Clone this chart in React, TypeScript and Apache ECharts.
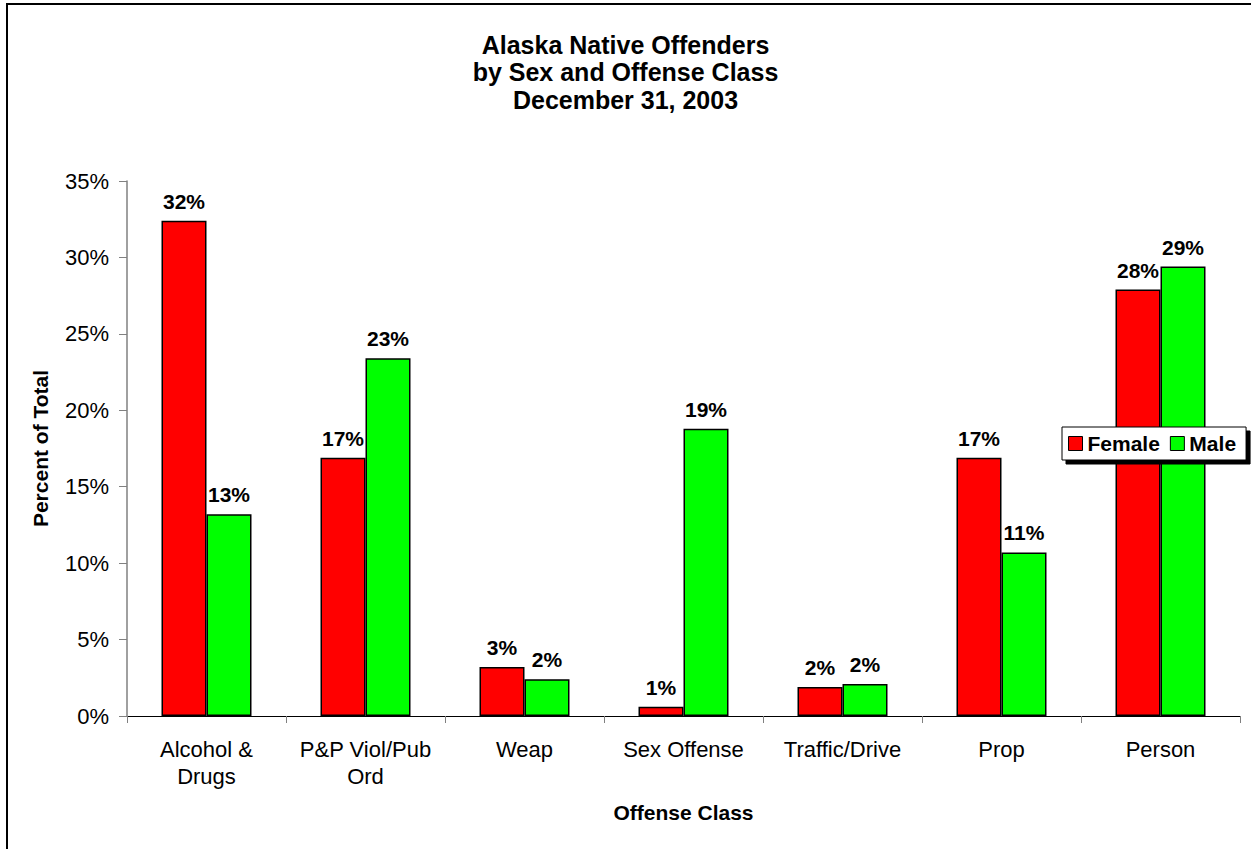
import React, { useEffect, useRef } from "react";
import * as echarts from "echarts";

const titleLines = ["Alaska Native Offenders", "by Sex and Offense Class", "December 31, 2003"];
const categories = ["Alcohol &\nDrugs", "P&P Viol/Pub\nOrd", "Weap", "Sex Offense", "Traffic/Drive", "Prop", "Person"];
const femaleValues = [32.4, 16.9, 3.2, 0.6, 1.9, 16.9, 27.9];
const maleValues = [13.2, 23.4, 2.4, 18.8, 2.1, 10.7, 29.4];
const yTicks = [0, 5, 10, 15, 20, 25, 30, 35];

const FONT = "'Liberation Sans', Arial, sans-serif";

export default function App() {
  const ref = useRef<HTMLDivElement>(null);
  useEffect(() => {
    if (!ref.current) return;
    const chart = echarts.init(ref.current, null, { renderer: "svg" });
    const labelStyle = {
      show: true,
      position: "top" as const,
      distance: 9,
      formatter: (p: any) => Math.round(p.value) + "%",
      fontFamily: FONT,
      fontWeight: "bold" as const,
      fontSize: 21,
      color: "#000",
    };
    chart.setOption({
      animation: false,
      backgroundColor: "#fff",
      textStyle: { fontFamily: FONT },
      title: {
        text: titleLines.join("\n"),
        left: "center",
        top: 26,
        textStyle: { fontFamily: FONT, fontWeight: "bold", fontSize: 25, lineHeight: 27.5, color: "#000" },
      },
      graphic: [
        {
          type: "rect",
          shape: { x: 7, y: 4, width: 1400, height: 1000 },
          style: { fill: "none", stroke: "#000", lineWidth: 2 },
          silent: true,
          z: -10,
        },
      ],
      legend: {
        left: 1062,
        top: 427,
        orient: "horizontal",
        itemWidth: 14,
        itemHeight: 14,
        itemGap: 10,
        padding: [5, 10, 5, 6],
        backgroundColor: "#fff",
        borderColor: "#000",
        borderWidth: 1,
        shadowColor: "#000",
        shadowBlur: 0,
        shadowOffsetX: 4,
        shadowOffsetY: 4,
        icon: "rect",
        itemStyle: { borderColor: "#000", borderWidth: 1 },
        textStyle: { fontFamily: FONT, fontWeight: "bold", fontSize: 21, color: "#000", lineHeight: 23 },
        data: ["Female", "Male"],
      },
      grid: { left: 127, right: 11, top: 181, bottom: 133, containLabel: false },
      xAxis: {
        type: "category",
        data: categories,
        name: "Offense Class",
        nameLocation: "middle",
        nameGap: 86,
        nameTextStyle: { fontFamily: FONT, fontWeight: "bold", fontSize: 21, color: "#000" },
        axisLine: { lineStyle: { color: "#000", width: 1 } },
        axisTick: { show: true, length: 7, lineStyle: { color: "#808080" } },
        axisLabel: { fontFamily: FONT, fontSize: 22, color: "#000", margin: 20, lineHeight: 27, interval: 0 },
        splitLine: { show: false },
      },
      yAxis: {
        type: "value",
        min: 0,
        max: 35,
        interval: 5,
        name: "Percent of Total",
        nameLocation: "middle",
        nameGap: 76,
        nameRotate: 90,
        nameTextStyle: { fontFamily: FONT, fontWeight: "bold", fontSize: 21, color: "#000" },
        axisLine: { show: true, lineStyle: { color: "#808080", width: 1.5 } },
        axisTick: { show: true, length: 8, lineStyle: { color: "#808080" } },
        axisLabel: {
          fontFamily: FONT,
          fontSize: 22,
          color: "#000",
          margin: 18,
          formatter: (v: number) => (yTicks.includes(v) ? v + "%" : ""),
        },
        splitLine: { show: false },
      },
      series: [
        {
          name: "Female",
          type: "bar",
          data: femaleValues,
          barWidth: 45,
          barGap: "0%",
          itemStyle: { color: "#ff0000", borderColor: "#000", borderWidth: 1.5 },
          label: labelStyle,
        },
        {
          name: "Male",
          type: "bar",
          data: maleValues,
          barWidth: 45,
          barGap: "0%",
          itemStyle: { color: "#00ff00", borderColor: "#000", borderWidth: 1.5 },
          label: labelStyle,
        },
      ],
    });
    return () => chart.dispose();
  }, []);
  return (
    <div
      ref={ref}
      style={{ position: "absolute", left: 0, top: 0, width: 1251, height: 849 }}
    />
  );
}
